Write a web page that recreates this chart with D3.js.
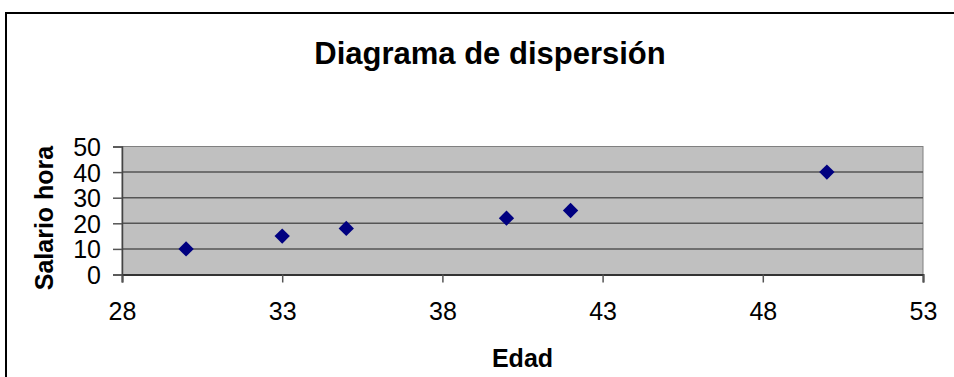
<!DOCTYPE html>
<html>
<head>
<meta charset="utf-8">
<script src="https://cdn.jsdelivr.net/npm/d3@7"></script>
<style>
  body { margin: 0; background: #fff; }
  svg { display: block; font-family: "Liberation Sans", Arial, sans-serif; }
</style>
</head>
<body>
<div class="canvas"></div>
<script>
// data
const edad = [30, 33, 35, 40, 42, 50];
const salario = [10, 15, 18, 22, 25, 40];
const xTicks = [28, 33, 38, 43, 48, 53];
const yTicks = [0, 10, 20, 30, 40, 50];

const dims = { width: 954, height: 377 };
const plot = { left: 122, top: 146.5, right: 923, bottom: 274.5 };

const svg = d3
  .select(".canvas")
  .append("svg")
  .attr("width", dims.width)
  .attr("height", dims.height);

// outer chart frame (runs off the right and bottom edges)
svg
  .append("rect")
  .attr("x", 6)
  .attr("y", 13)
  .attr("width", 1000)
  .attr("height", 500)
  .attr("fill", "#fff")
  .attr("stroke", "#000")
  .attr("stroke-width", 2);

const x = d3.scaleLinear().domain([28, 53]).range([plot.left, plot.right]);
const y = d3.scaleLinear().domain([0, 50]).range([plot.bottom, plot.top]);

// plot area
svg
  .append("rect")
  .attr("x", plot.left)
  .attr("y", plot.top)
  .attr("width", plot.right - plot.left)
  .attr("height", plot.bottom - plot.top)
  .attr("fill", "#c0c0c0")
  .attr("stroke", "#808080")
  .attr("stroke-width", 1);

// gridlines
svg
  .append("g")
  .selectAll("line")
  .data(yTicks.filter((d) => d > 0 && d < 50))
  .enter()
  .append("line")
  .attr("x1", plot.left)
  .attr("x2", plot.right)
  .attr("y1", (d) => y(d))
  .attr("y2", (d) => y(d))
  .attr("stroke", "#555")
  .attr("stroke-width", 1.5);

// axes
const xAxis = svg
  .append("g")
  .attr("transform", `translate(0, ${plot.bottom})`)
  .call(d3.axisBottom(x).tickValues(xTicks).tickSize(8).tickPadding(20));

const yAxis = svg
  .append("g")
  .attr("transform", `translate(${plot.left}, 0)`)
  .call(d3.axisLeft(y).tickValues(yTicks).tickSize(9).tickPadding(20));

xAxis.select(".domain").attr("stroke", "#333").attr("stroke-width", 2);
yAxis.select(".domain").attr("stroke", "#444").attr("stroke-width", 1.5);
svg.selectAll(".tick line").attr("stroke", "#555").attr("stroke-width", 1.5);
svg
  .selectAll(".tick text")
  .attr("fill", "#000")
  .attr("font-size", 25)
  .attr("font-family", '"Liberation Sans", Arial, sans-serif');
yAxis.selectAll(".tick text").attr("dy", "0.36em").attr("x", -21);

// points
const diamond = d3.symbol().type(d3.symbolDiamond2).size(150);
svg
  .append("g")
  .selectAll("path")
  .data(edad.map((d, i) => ({ edad: d, salario: salario[i] })))
  .enter()
  .append("path")
  .attr("d", diamond)
  .attr("transform", (d) => `translate(${x(d.edad)}, ${y(d.salario)})`)
  .attr("fill", "#000080");

// titles
svg
  .append("text")
  .attr("x", 490)
  .attr("y", 64)
  .attr("text-anchor", "middle")
  .attr("font-size", 31)
  .attr("font-weight", "bold")
  .text("Diagrama de dispersión");

svg
  .append("text")
  .attr("x", (plot.left + plot.right) / 2)
  .attr("y", 367)
  .attr("text-anchor", "middle")
  .attr("font-size", 25)
  .attr("font-weight", "bold")
  .text("Edad");

svg
  .append("text")
  .attr("transform", "translate(53, 218) rotate(-90)")
  .attr("text-anchor", "middle")
  .attr("font-size", 25)
  .attr("font-weight", "bold")
  .text("Salario hora");
</script>
</body>
</html>
